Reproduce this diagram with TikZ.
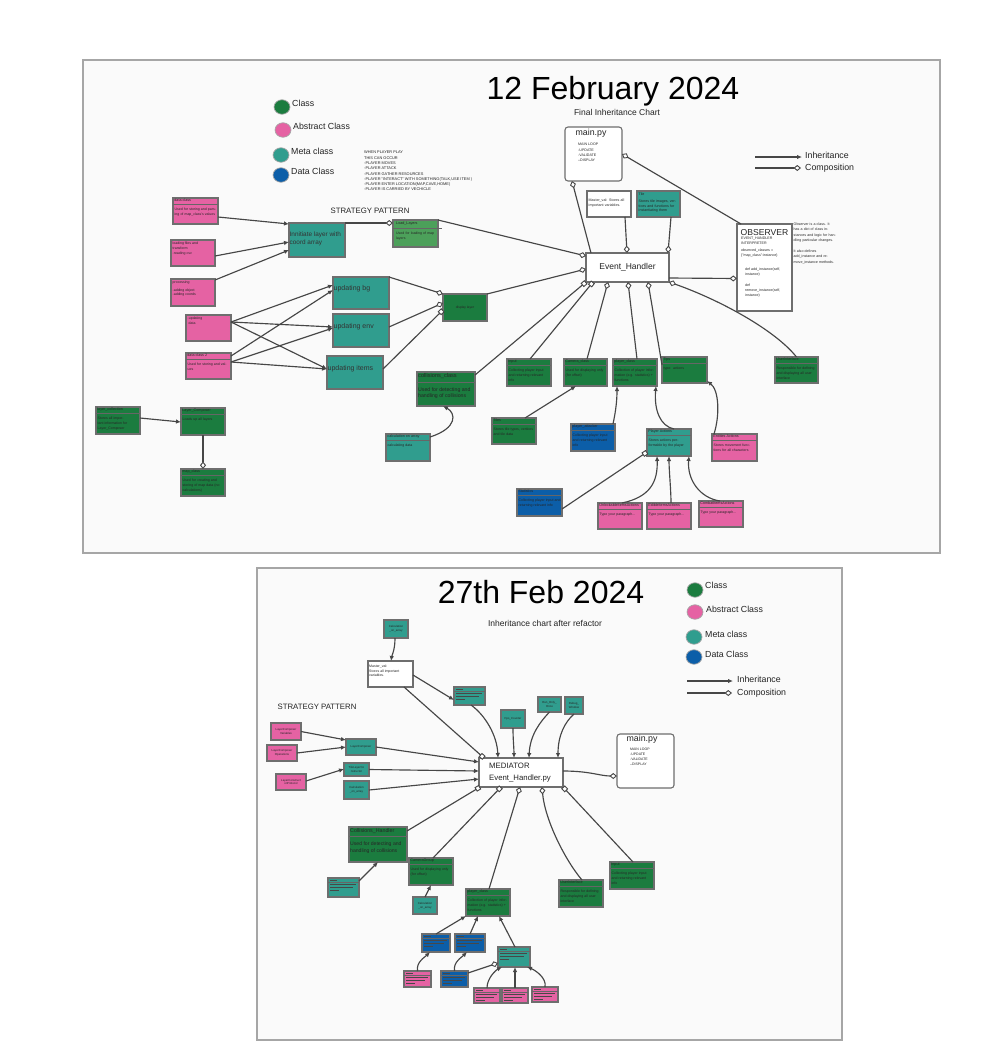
\documentclass[tikz,border=0pt]{standalone}
\usepackage{fontspec}
\setmainfont{Liberation Sans}
\usetikzlibrary{arrows.meta,fit,shapes.geometric}
\definecolor{cgreen}{RGB}{27,124,63}
\definecolor{cpink}{RGB}{229,98,163}
\definecolor{cteal}{RGB}{48,157,142}
\definecolor{cblue}{RGB}{12,94,168}
\definecolor{clight}{RGB}{76,160,90}
\definecolor{bord}{RGB}{110,110,110}
\definecolor{lnc}{RGB}{70,70,70}
\definecolor{pbg}{RGB}{250,250,250}
\definecolor{txtc}{RGB}{35,35,35}
\newcommand{\fz}[2]{\fontsize{#1}{#2}\selectfont}
\tikzset{
  boxst/.style={draw=bord, line width=1.1pt, inner sep=0pt, outer sep=0pt},
  ln/.style={draw=lnc, line width=1.15pt},
  inh/.style={ln, -{Latex[length=5pt,width=4.5pt]}},
  comp/.style={ln, -{Diamond[fill=white,length=7.5pt,width=6pt,line width=0.9pt]}},
  sqr/.style={ln, -{Square[fill=white,length=5pt,width=5pt,line width=0.9pt]}},
  hdrt/.style={inner sep=0pt, anchor=north west, font=\fz{3.7}{4.5}, text=black!85, align=left},
  bodyt/.style={inner sep=0pt, anchor=north west, font=\fz{3.5}{4.8}, text=black!85, align=left},
  lbl/.style={inner sep=0pt, text=txtc},
  legdot/.style={ellipse, inner sep=0pt, minimum width=16pt, minimum height=14.5pt, draw=gray!70, line width=0.7pt},
  divl/.style={draw=black!60, line width=0.5pt},
  barf/.style={fill=black!72}
}
% class box with header, divider and body
\newcommand{\ClsBox}[8]{%
  \node[boxst, fill=#2, fit={(#3,#4)(#5,#6)}] (#1) {};
  \draw[divl] ([yshift=-6.5pt]#1.north west) -- ([yshift=-6.5pt]#1.north east);
  \pgfmathsetmacro\tw{#5-#3-3}%
  \node[hdrt] (#1h) at ([xshift=1.2pt,yshift=-1pt]#1.north west) {#7};
  \node[bodyt, text width=\tw pt] (#1b) at ([xshift=1.5pt,yshift=-10pt]#1.north west) {#8};
}
% plain box, text top-left
\newcommand{\PlBox}[7]{%
  \node[boxst, fill=#2, fit={(#3,#4)(#5,#6)}] (#1) {};
  \node[bodyt] (#1t) at ([xshift=1.5pt,yshift=-1.5pt]#1.north west) {#7};
}
% box with centered text
\newcommand{\CnBox}[9]{%
  \node[boxst, fill=#2, fit={(#3,#4)(#5,#6)}] (#1) {};
  \node[inner sep=0pt, align=center, font=\fz{#7}{#8}, text=black!85] (#1t) at (#1.center) {#9};
}
% box whose text is unreadable: drawn as bars
\newcommand{\LnBox}[6]{%
  \node[boxst, fill=#2, fit={(#3,#4)(#5,#6)}] (#1) {};
  \fill[barf] ([xshift=1.5pt,yshift=-1.8pt]#1.north west) rectangle ++(7pt,-1.1pt);
  \draw[divl] ([yshift=-4.3pt]#1.north west) -- ([yshift=-4.3pt]#1.north east);
  \fill[barf] ([xshift=1.5pt,yshift=-6.2pt]#1.north west) rectangle ([xshift=-3pt,yshift=-7.2pt]#1.north east);
  \fill[barf] ([xshift=1.5pt,yshift=-9.2pt]#1.north west) rectangle ([xshift=-6pt,yshift=-10.2pt]#1.north east);
  \fill[barf] ([xshift=1.5pt,yshift=-12.2pt]#1.north west) rectangle ++(9pt,-1pt);
}
\begin{document}
\begin{tikzpicture}[x=1pt,y=-1pt]
\useasboundingbox (0,0) rectangle (996,1045);
\fill[white] (0,0) rectangle (996,1045);
\draw[draw=gray!70, line width=1.2pt, fill=pbg] (83,60) rectangle (940,553);
\draw[draw=gray!70, line width=1.2pt, fill=pbg] (257,568) rectangle (842,1040);

%================ TOP PANEL =================
\node[lbl, anchor=base, font=\fz{32}{36}, text=black] (title1) at (613,99) {12 February 2024};
\node[lbl, font=\fz{8.5}{10}] (sub1) at (617,112) {Final Inheritance Chart};

\node[legdot, fill=cgreen] (lg1) at (282,107) {};
\node[lbl, anchor=west, font=\fz{8.8}{10}] (lg1t) at (292,103) {Class};
\node[legdot, fill=cpink] (lg2) at (283,130) {};
\node[lbl, anchor=west, font=\fz{8.8}{10}] (lg2t) at (293,126) {Abstract Class};
\node[legdot, fill=cteal] (lg3) at (281,155) {};
\node[lbl, anchor=west, font=\fz{8.8}{10}] (lg3t) at (291,151) {Meta class};
\node[legdot, fill=cblue] (lg4) at (281,175) {};
\node[lbl, anchor=west, font=\fz{8.8}{10}] (lg4t) at (291,171) {Data Class};

\node[lbl, anchor=north west, font=\fz{3.9}{5.3}, align=left] (plays) at (364,151)
 {WHEN PLAYER PLAY\\THIS CAN OCCUR\\-PLAYER MOVES\\-PLAYER ATTACK\\-PLAYER GATHER RESOURCES\\-PLAYER "INTERACT" WITH SOMETHING(TALK,USE ITEM )\\-PLAYER ENTER LOCATION(MAP,CAVE,HOME)\\-PLAYER IS CARRIED BY VECHICLE};

\node[lbl, font=\fz{7.8}{9}] (strat1) at (370,211) {STRATEGY PATTERN};

\coordinate (lia) at (755,157); \coordinate (lib) at (802,157);
\draw[inh] (lia) -- (lib);
\coordinate (lca) at (755,168); \coordinate (lcb) at (801,168);
\draw[comp] (lca) -- (lcb);
\node[lbl, anchor=west, font=\fz{8.8}{10}] (lit) at (805,155) {Inheritance};
\node[lbl, anchor=west, font=\fz{8.8}{10}] (lct) at (805,168) {Composition};

% left pink boxes
\ClsBox{dca}{cpink}{173}{198}{218}{224}{data class}{Used for storing and parsing of map\_class's values}
\PlBox{lf}{cpink}{171}{240}{215}{266}{loading files and\\transform:\\[1pt] -reading csv}
\PlBox{proc}{cpink}{171}{279}{215}{306}{processing\\[3pt] -adding object\\ -adding coords}
\PlBox{upd}{cpink}{186}{315}{231}{341}{-updating\\ \ data}
\ClsBox{dcb}{cpink}{186}{353}{231}{379}{data class 2}{Used for storing and values}

\node[boxst, fill=cteal, fit={(289,223)(345,257)}] (init) {};
\node[lbl, anchor=north west, font=\fz{6.4}{8}, align=left, text=black!80] (initt) at (289.5,232) {Innitiate layer with\\coord array};

\node[boxst, fill=clight, fit={(393,220)(438,247)}] (ldl) {};
\draw[divl] (393,228.5) -- (442,228.5);
\node[hdrt] (ldlh) at (396,221.5) {Load\_Layers};
\node[bodyt, text width=40pt] (ldlb) at (396,232) {Used for loading of map layers};

\node[boxst, fill=cteal, fit={(333,277)(389,309)}] (ubg) {};
\node[lbl, anchor=west, font=\fz{7}{8}, text=black!80] (ubgt) at (333.5,289) {updating bg};
\node[boxst, fill=cteal, fit={(333,314)(389,347)}] (uenv) {};
\node[lbl, anchor=west, font=\fz{7}{8}, text=black!80] (uenvt) at (333.5,327) {updating env};
\node[boxst, fill=cteal, fit={(327,356)(383,389)}] (uitm) {};
\node[lbl, anchor=west, font=\fz{7}{8}, text=black!80] (uitmt) at (327.5,369) {updating items};

\CnBox{dl}{cgreen}{443}{294}{487}{321}{3.3}{4}{display layer}

% Event handler, main, observer
\node[boxst, fill=white, fit={(586,253)(669,282)}] (eh) {};
\node[lbl, font=\fz{8.5}{10}] (eht) at (627.5,267) {Event\_Handler};

\node[boxst, fill=white, rounded corners=3pt, fit={(565,127)(622,181)}] (mainA) {};
\node[lbl, font=\fz{8.8}{10}] (mainAh) at (591,133) {main.py};
\node[lbl, anchor=north west, font=\fz{3.6}{5.4}, align=left] (mainAb) at (578,143) {MAIN LOOP\\ -UPDATE\\ -VALIDATE\\ --DISPLAY};

\node[boxst, fill=white, fit={(587,191)(631,217)}] (mv) {};
\node[bodyt, text width=41pt, font=\fz{3.6}{5.4}] (mvt) at (588.5,198.5) {Master\_val: Stores all important variables.};

\node[boxst, fill=cteal, fit={(637,191)(680,217)}] (tile) {};
\node[bodyt, text width=41pt, font=\fz{3.6}{4.6}] (tilet) at (638.5,192.5) {Tile\\[2.5pt]Stores tile images, vertices and functions for instantiating them};

\node[boxst, fill=white, fit={(737,224)(792,311)}] (obs) {};
\node[lbl, anchor=west, font=\fz{8.6}{10}] (obsh) at (740.5,233) {OBSERVER};
\node[bodyt, font=\fz{3.6}{5.4}] (obsb) at (741,236.5) {EVENT\_HANDLER\\ INTERPRETER\\[1.5pt] observed\_classes =\\ \{"map\_class":instance\}\\[8pt] \hspace*{4pt}def add\_instance(self,\\ \hspace*{4pt}instance)\\[5pt] \hspace*{4pt}def\\ \hspace*{4pt}remove\_instance(self,\\ \hspace*{4pt}instance)};
\node[bodyt, text width=43pt, font=\fz{3.6}{5.5}, text=txtc] (obsnote) at (793.5,222.5) {Observer is a class. It has a dict of class instances and logic for handling particular changes.\\[5pt] It also defines add\_instance and remove\_instance methods.};

% lower classes
\ClsBox{inp}{cgreen}{507}{359}{551}{386}{Input}{Collecting player input and returning relevant info}
\ClsBox{cam}{cgreen}{564}{359}{607}{386}{Camera\_class}{Used for displaying only (for offset)}
\ClsBox{pc}{cgreen}{613}{359}{657}{386}{player\_class}{Collection of player information (e.g. statistics) + functions}
\ClsBox{tips}{cgreen}{662}{357}{707}{383}{Tips}{type: actions}
\ClsBox{ui}{cgreen}{775}{357}{818}{383}{UserInterface}{Responsible for defining and displaying all user interface}

\node[boxst, fill=cgreen, fit={(417,372)(475,406)}] (coll) {};
\draw[divl] (417,382.5) -- (475,382.5);
\node[lbl, anchor=west, font=\fz{5.6}{6.5}, text=black!85] (collh) at (418,376.5) {collisions\_class};
\node[bodyt, font=\fz{5.2}{6.3}] (collb) at (418,387.5) {Used for detecting and\\handling of collisions};

\ClsBox{calc}{cteal}{386}{434}{430}{461}{calculation on array}{calculating data}
\ClsBox{tiles}{cgreen}{492}{418}{536}{444}{Tiles}{Stores tile types, vertices and tile data}
\ClsBox{patk}{cblue}{571}{424}{615}{451}{player\_attacker}{Collecting player input and returning relevant info}
\ClsBox{pa}{cteal}{647}{429}{691}{456}{Player Actions}{Stores actions performable by the player}
\ClsBox{ea}{cpink}{712}{434}{757}{461}{Entities Actions}{Stores movement functions for all characters}
\ClsBox{stat}{cblue}{517}{489}{562}{516}{Statistics}{Collecting player input and returning relevant info}
\ClsBox{uia}{cpink}{598}{503}{642}{529}{UnlockableItemsActions}{Type your paragraph...}
\ClsBox{eia}{cpink}{647}{503}{691}{529}{EdibleItemsActions}{Type your paragraph...}
\ClsBox{cia}{cpink}{699}{501}{743}{527}{CombatItemsActions}{Type your paragraph...}

\ClsBox{lc}{cgreen}{96}{407}{140}{434}{layer\_collection}{Stores all important information for Layer\_Composer}
\ClsBox{lcomp}{cgreen}{181}{408}{225}{435}{Layer\_Composer}{Loads up all layers}
\ClsBox{mapc}{cgreen}{181}{469}{225}{496}{map\_class}{Used for creating and storing of map data (no calculations)}

% top connectors
\draw[inh] ([yshift=-6pt]dca.east) -- ([yshift=-1pt]init.north west);
\draw[inh] ([yshift=-3pt]lf.east) -- ([yshift=-2pt]init.west);
\draw[inh] ([yshift=-1pt]proc.north east) -- ([yshift=-10pt]init.west);
\draw[comp] (init.north east) -- ([yshift=-3pt]ldl.north west);
\draw[comp] (ldl.north east) -- ([yshift=-3pt]eh.north west);
\draw[inh] ([yshift=6pt]upd.east) -- ([yshift=-8pt]ubg.north west);
\draw[inh] ([yshift=6pt]upd.east) -- ([yshift=-13pt]uenv.north west);
\draw[inh] ([yshift=6pt]upd.east) -- ([yshift=-13pt]uitm.north west);
\draw[inh] ([yshift=-3pt]dcb.north east) -- ([yshift=-13pt]ubg.north west);
\draw[inh] ([yshift=-9pt]dcb.north east) -- ([yshift=-14pt]uenv.north west);
\draw[inh] ([yshift=-9pt]dcb.north east) -- ([yshift=-13pt]uitm.north west);
\draw[comp] (ubg.north east) -- (dl.north west);
\draw[comp] ([yshift=-13pt]uenv.north east) -- ([yshift=-9pt]dl.north west);
\draw[sqr] ([yshift=-13pt]uitm.north east) -- ([yshift=-16pt]dl.north west);
\draw[comp] (dl.north east) -- ([yshift=-16pt]eh.north west);
\draw[sqr] ([yshift=-3pt]coll.north east) -- (eh.south west);
\draw[sqr] ([xshift=23pt]inp.north west) -- ([xshift=7pt]eh.south west);
\draw[comp] ([xshift=23pt]cam.north west) -- ([xshift=22pt]eh.south west);
\draw[comp] ([xshift=24pt]pc.north west) -- ([xshift=42pt]eh.south west);
\draw[comp] ([yshift=-8pt]tips.north west) -- ([xshift=62pt]eh.south west);
\draw[comp] (ui.north) .. controls (775,330) and (720,300) .. (eh.south east);
\draw[comp] ([yshift=4pt]eh.south east) -- ([yshift=-11pt]obs.west);
\draw[comp] ([xshift=5pt]eh.north west) -- ([xshift=7pt]mainA.south west);
\draw[comp] ([xshift=4pt]obs.north west) -- (mainA.east);
\draw[comp] ([xshift=-6pt]mv.south east) -- ([xshift=41pt]eh.north west);
\draw[comp] ([xshift=-9pt]tile.south east) -- ([xshift=-1pt]eh.north east);
\draw[inh] ([yshift=-11pt]lc.north east) -- ([yshift=-14pt]lcomp.north west);
\draw[comp] (lcomp.south) -- (mapc.north);
\draw[inh] ([yshift=-3pt]calc.north east) .. controls (458,428) and (456,413) .. ([xshift=-3pt]coll.south);
\draw[inh] ([xshift=-11pt]tiles.north east) -- ([xshift=-9.5pt]cam.south);
\draw[inh] ([xshift=-2pt]patk.north east) .. controls (616,410) and (617,400) .. ([xshift=4pt]pc.south west);
\draw[inh] ([xshift=5pt]pa.north) .. controls (660,426) and (654,410) .. ([xshift=-1pt]pc.south east);
\draw[inh] ([xshift=2pt]ea.north west) .. controls (720,415) and (719,390) .. ([yshift=2pt]tips.south east);
\draw[sqr] ([yshift=-20pt]stat.north east) -- ([yshift=4pt]pa.south west);
\draw[inh] ([xshift=24pt]uia.north west) .. controls (650,497) and (658,482) .. ([xshift=10pt]pa.south west);
\draw[inh] ([xshift=2pt]eia.north) .. controls (671,490) and (669,470) .. (pa.south);
\draw[inh] ([xshift=21pt]cia.north west) .. controls (700,498) and (687,480) .. ([xshift=-2pt]pa.south east);

%================ BOTTOM PANEL =================
\node[lbl, anchor=base, font=\fz{32}{36}, text=black] (title2) at (541,603) {27th Feb 2024};
\node[lbl, font=\fz{8.5}{10}] (sub2) at (545,623) {Inheritance chart after refactor};

\node[legdot, fill=cgreen] (bg1) at (695,590) {};
\node[lbl, anchor=west, font=\fz{8.8}{10}] (bg1t) at (705,585) {Class};
\node[legdot, fill=cpink] (bg2) at (695,612) {};
\node[lbl, anchor=west, font=\fz{8.8}{10}] (bg2t) at (706,609) {Abstract Class};
\node[legdot, fill=cteal] (bg3) at (694,637) {};
\node[lbl, anchor=west, font=\fz{8.8}{10}] (bg3t) at (705,634) {Meta class};
\node[legdot, fill=cblue] (bg4) at (694,657) {};
\node[lbl, anchor=west, font=\fz{8.8}{10}] (bg4t) at (705,654) {Data Class};
\coordinate (bia) at (687,681); \coordinate (bib) at (733,681);
\draw[inh] (bia) -- (bib);
\coordinate (bca) at (687,693); \coordinate (bcb) at (732,693);
\draw[comp] (bca) -- (bcb);
\node[lbl, anchor=west, font=\fz{8.8}{10}] (bit) at (737,679) {Inheritance};
\node[lbl, anchor=west, font=\fz{8.8}{10}] (bct) at (737,693) {Composition};

\node[lbl, font=\fz{7.8}{9}] (strat2) at (317,707) {STRATEGY PATTERN};

\CnBox{bcalca}{cteal}{384}{620}{408}{638}{2.9}{3.6}{Calculation\\\_on\_array}
\node[boxst, fill=white, fit={(368,661)(413,687)}] (bmv) {};
\node[bodyt, font=\fz{3.5}{4.6}] (bmvt) at (369,665) {Master\_val:\\Stores all important\\variables.};
\LnBox{blinesa}{cteal}{454}{687}{485}{705}
\CnBox{fps}{cteal}{501}{710}{525}{728}{2.9}{3.6}{Fps\_Counter}
\CnBox{roo}{cteal}{538}{697}{561}{712}{2.9}{3.6}{Run\_Only\_\\Once}
\CnBox{dbg}{cteal}{565}{697}{583}{714}{2.9}{3.6}{Debug\_\\Window}

\node[boxst, fill=white, fit={(479,758)(563,787)}] (med) {};
\node[lbl, anchor=west, font=\fz{7.8}{9}] (medt) at (489,766) {MEDIATOR};
\node[lbl, anchor=west, font=\fz{7.8}{9}] (medu) at (489,778) {Event\_Handler.py};

\CnBox{lcv}{cpink}{271}{723}{301}{740}{2.9}{3.6}{LayerComposer\\Variables}
\CnBox{lco}{cpink}{267}{745}{297}{761}{2.9}{3.6}{LayerComposer\\Operations}
\CnBox{lcp}{cpink}{276}{774}{306}{790}{2.9}{3.6}{LayerConstruct\\orProtocol}
\CnBox{blc}{cteal}{346}{739}{376}{755}{2.9}{3.6}{LayerComposer}
\CnBox{tlc}{cteal}{344}{763}{369}{776}{2.9}{3.6}{TileLayerCo\\nstructor}
\CnBox{bcalcb}{cteal}{344}{781}{369}{799}{2.9}{3.6}{Calculation\\\_on\_array}

\node[boxst, fill=white, rounded corners=3pt, fit={(617,734)(674,788)}] (bmain) {};
\node[lbl, font=\fz{8.8}{10}] (bmainh) at (642,739) {main.py};
\node[lbl, anchor=north west, font=\fz{3.5}{5}, align=left] (bmainb) at (630,748) {MAIN LOOP\\ -UPDATE\\ -VALIDATE\\ --DISPLAY};

\node[boxst, fill=cgreen, fit={(349,827)(407,862)}] (ch) {};
\draw[divl] (349,836.5) -- (407,836.5);
\node[lbl, anchor=west, font=\fz{5.3}{6.3}, text=black!85] (chh) at (350,831) {Collisions\_Handler};
\node[bodyt, font=\fz{5.1}{6.2}] (chb) at (350,842) {Used for detecting and\\handling of collisions};

\LnBox{blinesb}{cteal}{328}{878}{359}{897}
\ClsBox{cg}{cgreen}{409}{858}{453}{885}{CameraGroup}{Used for displaying only (for offset)}
\CnBox{bcalcc}{cteal}{413}{897}{437}{914}{2.9}{3.6}{Calculation\\\_on\_array}
\ClsBox{bpc}{cgreen}{466}{889}{510}{916}{player\_class}{Collection of player information (e.g. statistics) + functions}
\ClsBox{bui}{cgreen}{559}{880}{603}{907}{UserInterface}{Responsible for defining and displaying all user interface}
\ClsBox{binp}{cgreen}{610}{862}{654}{889}{Input}{Collecting player input and returning relevant info}

\LnBox{bba}{cblue}{422}{934}{450}{952}
\LnBox{bbb}{cblue}{455}{934}{485}{952}
\LnBox{btl}{cteal}{498}{947}{530}{967}
\LnBox{bpa}{cpink}{404}{971}{431}{987}
\LnBox{bbc}{cblue}{441}{971}{468}{987}
\LnBox{bpb}{cpink}{474}{988}{500}{1003}
\LnBox{bpc3}{cpink}{502}{988}{528}{1003}
\LnBox{bpd}{cpink}{532}{987}{558}{1002}

% bottom connectors
\draw[inh] ([xshift=-1pt]bcalca.south) .. controls (395,650) and (392,655) .. ([xshift=0.5pt]bmv.north);
\draw[inh] ([yshift=-14pt]bmv.north east) -- ([yshift=-13pt]blinesa.north west);
\draw[sqr] ([xshift=-9pt]bmv.south east) -- ([xshift=5pt]med.north west);
\draw[inh] ([xshift=1.5pt]blinesa.south) .. controls (485,715) and (497,735) .. ([xshift=19pt]med.north west);
\draw[inh] (fps.south) .. controls (513,740) and (514,748) .. ([xshift=35pt]med.north west);
\draw[inh] (roo.south) .. controls (540,722) and (530,735) .. ([xshift=50pt]med.north west);
\draw[inh] (dbg.south) .. controls (565,722) and (558,735) .. ([xshift=-5pt]med.north east);
\draw[inh] (lcv.east) -- ([yshift=-1pt]blc.north west);
\draw[inh] (lco.east) -- ([yshift=-8pt]blc.north west);
\draw[inh] ([yshift=-7pt]lcp.north east) -- ([yshift=-6pt]tlc.north west);
\draw[inh] (blc.east) -- ([yshift=-4pt]med.north west);
\draw[inh] (tlc.east) -- ([yshift=-13pt]med.north west);
\draw[inh] (bcalcb.east) -- ([yshift=-21pt]med.north west);
\draw[comp] ([yshift=-13pt]med.north east) .. controls (590,771) and (600,776) .. ([yshift=-42pt]bmain.north west);
\draw[sqr] ([yshift=-4pt]ch.north east) -- ([xshift=1pt]med.south west);
\draw[sqr] ([xshift=24pt]cg.north west) -- ([xshift=22pt]med.south west);
\draw[comp] ([xshift=23pt]bpc.north west) -- ([xshift=41pt]med.south west);
\draw[comp] ([xshift=23pt]bui.north west) .. controls (565,860) and (545,820) .. ([xshift=63pt]med.south west);
\draw[sqr] ([xshift=23pt]binp.north west) -- (med.south east);
\draw[inh] ([yshift=-3pt]blinesb.north east) -- (ch.south);
\draw[inh] (bcalcc.north) -- (cg.south);
\draw[inh] (bba.north) -- (bpc.south west);
\draw[inh] (bbb.north) -- ([xshift=12pt]bpc.south west);
\draw[inh] ([xshift=1pt]btl.north) -- ([xshift=-11pt]bpc.south east);
\draw[inh] (bpa.north) .. controls (416,962) and (425,957) .. ([xshift=-6pt]bba.south);
\draw[inh] (bbc.north) .. controls (453,962) and (462,957) .. ([xshift=-3pt]bbb.south);
\draw[comp] ([yshift=-2pt]bbc.north east) -- ([yshift=-16pt]btl.north west);
\draw[inh] (bpb.north) .. controls (487,978) and (496,970) .. ([xshift=4pt]btl.south west);
\draw[inh] (bpc3.north) -- ([xshift=1pt]btl.south);
\draw[inh] (bpd.north) .. controls (547,978) and (535,970) .. ([xshift=-3pt]btl.south east);
\end{tikzpicture}
\end{document}
